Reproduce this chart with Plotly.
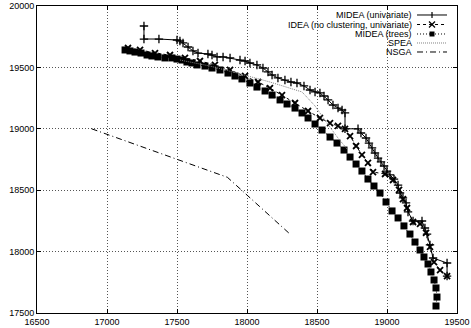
import plotly.graph_objects as go

# ---- data ----
uni_x = [17264, 17264, 17371, 17500, 17521, 17543, 17579, 17614, 17650, 17721, 17750,
         17786, 17829, 17879, 17950, 17986, 18021, 18071, 18114, 18150, 18179, 18221,
         18271, 18314, 18357, 18407, 18450, 18486, 18521, 18550, 18579, 18614, 18650,
         18679, 18700, 18700, 18793, 18814, 18850, 18871, 18893, 18914, 18936, 18957,
         18979, 19000, 19021, 19050, 19079, 19093, 19114, 19136, 19150, 19186, 19250,
         19271, 19286, 19307, 19329, 19429, 19429]
uni_y = [19837, 19731, 19731, 19723, 19715, 19699, 19666, 19634, 19617, 19609, 19601,
         19585, 19585, 19577, 19560, 19552, 19536, 19520, 19495, 19463, 19438, 19414,
         19397, 19381, 19373, 19349, 19316, 19300, 19292, 19267, 19235, 19194, 19169,
         19153, 19129, 19000, 19000, 18966, 18925, 18884, 18844, 18803, 18762, 18730,
         18697, 18656, 18624, 18591, 18542, 18477, 18437, 18396, 18323, 18249, 18249,
         18192, 18143, 18054, 17948, 17907, 17801]

idea_x = [17150, 17236, 17343, 17450, 17557, 17664, 17771, 17879, 17986, 18079, 18164,
          18250, 18343, 18436, 18521, 18593, 18650, 18700, 18736, 18779, 18821, 18864,
          18900, 18986, 19043, 19086, 19114, 19143, 19186, 19236, 19279, 19307, 19336,
          19379, 19429]
idea_y = [19658, 19642, 19617, 19601, 19577, 19552, 19520, 19479, 19430, 19381, 19332,
          19275, 19210, 19145, 19088, 19047, 19023, 19000, 18941, 18860, 18787, 18722,
          18648, 18632, 18583, 18502, 18428, 18355, 18241, 18225, 18152, 18038, 17915,
          17850, 17801]

trees_x = [17129, 17164, 17200, 17243, 17286, 17321, 17364, 17414, 17464, 17500, 17536,
           17571, 17607, 17643, 17700, 17750, 17807, 17864, 17914, 17964, 18021, 18071,
           18129, 18179, 18236, 18286, 18343, 18393, 18436, 18486, 18536, 18593, 18643,
           18693, 18736, 18779, 18821, 18864, 18907, 18950, 18993, 19036, 19079, 19121,
           19164, 19200, 19236, 19264, 19293, 19314, 19336, 19350, 19357, 19350]
trees_y = [19642, 19634, 19625, 19617, 19601, 19593, 19585, 19577, 19577, 19568, 19560,
           19544, 19536, 19520, 19511, 19495, 19479, 19454, 19430, 19406, 19373, 19340,
           19308, 19275, 19235, 19202, 19169, 19129, 19088, 19039, 18990, 18933, 18884,
           18827, 18770, 18713, 18656, 18591, 18534, 18477, 18404, 18331, 18274, 18209,
           18143, 18078, 18013, 17956, 17899, 17834, 17769, 17704, 17630, 17557]

spea_x = [17521, 17736, 17929, 18164, 18393, 18486, 18571, 18650, 18721]
spea_y = [19560, 19511, 19454, 19381, 19300, 19186, 19047, 18925, 18827]

nsga_x = [16890, 17860, 18300]
nsga_y = [19000, 18605, 18150]

x_ticks = [16500, 17000, 17500, 18000, 18500, 19000, 19500]
y_ticks = [17500, 18000, 18500, 19000, 19500, 20000]

names = ["MIDEA (univariate)", "IDEA (no clustering, univariate)", "MIDEA (trees)", "SPEA", "NSGA"]

FONT = "Liberation Sans, Arial, Helvetica, sans-serif"

fig = go.Figure()
fig.add_trace(go.Scatter(x=uni_x, y=uni_y, mode="lines+markers", name=names[0],
                         line=dict(color="black", width=1),
                         marker=dict(symbol="cross-thin", size=6, line=dict(color="black", width=1.3))))
fig.add_trace(go.Scatter(x=idea_x, y=idea_y, mode="lines+markers", name=names[1],
                         line=dict(color="black", width=1, dash="3px,3px"),
                         marker=dict(symbol="x-thin", size=6, line=dict(color="black", width=1.8))))
fig.add_trace(go.Scatter(x=trees_x, y=trees_y, mode="lines+markers", name=names[2],
                         line=dict(color="black", width=1, dash="1px,2px"),
                         marker=dict(symbol="square", size=7, color="black")))
fig.add_trace(go.Scatter(x=spea_x, y=spea_y, mode="lines", name=names[3],
                         line=dict(color="#808080", width=1, dash="1px,1px")))
fig.add_trace(go.Scatter(x=nsga_x, y=nsga_y, mode="lines", name=names[4],
                         line=dict(color="black", width=1, dash="6px,3px,1px,3px")))

axis_common = dict(showline=True, linecolor="black", linewidth=1, mirror="allticks",
                   ticks="inside", ticklen=4, tickcolor="black", automargin=False,
                   showgrid=True, gridcolor="#555", gridwidth=1, griddash="1px,2px",
                   zeroline=False, tickfont=dict(family=FONT, size=9, color="black"))

fig.update_xaxes(range=[16500, 19500], tickvals=x_ticks, ticktext=[str(v) for v in x_ticks],
                 ticklabelstandoff=0, **axis_common)
fig.update_yaxes(range=[17500, 20000], tickvals=y_ticks, ticktext=[str(v) for v in y_ticks],
                 **axis_common)

# ---- manual gnuplot-style key (text right-aligned, sample on the right) ----
row_y = [0.9707, 0.9397, 0.9088, 0.8795, 0.8502]
tx = 0.8952
s0, s1, sc = 0.9048, 0.9762, 0.9405
dashes = ["solid", "3px,3px", "1px,2px", "1px,1px", "6px,3px,1px,3px"]
colors = ["black", "black", "black", "#808080", "black"]
annotations = []
shapes = []
dx, dy = 3 / 420, 3 / 307
for i, nm in enumerate(names):
    yy = row_y[i]
    annotations.append(dict(xref="paper", yref="paper", x=tx, y=yy, text=nm, showarrow=False,
                            xanchor="right", yanchor="middle", borderpad=0,
                            font=dict(family=FONT, size=9, color="black")))
    shapes.append(dict(type="line", xref="paper", yref="paper", x0=s0, x1=s1, y0=yy, y1=yy,
                       line=dict(color=colors[i], width=1, dash=dashes[i])))
# sample markers
shapes.append(dict(type="line", xref="paper", yref="paper", x0=sc, x1=sc,
                   y0=row_y[0] - dy, y1=row_y[0] + dy, line=dict(color="black", width=1.2)))
shapes.append(dict(type="line", xref="paper", yref="paper", x0=sc - dx, x1=sc + dx,
                   y0=row_y[1] - dy, y1=row_y[1] + dy, line=dict(color="black", width=1.2)))
shapes.append(dict(type="line", xref="paper", yref="paper", x0=sc - dx, x1=sc + dx,
                   y0=row_y[1] + dy, y1=row_y[1] - dy, line=dict(color="black", width=1.2)))
shapes.append(dict(type="rect", xref="paper", yref="paper", x0=sc - 2.5 / 420, x1=sc + 2.5 / 420,
                   y0=row_y[2] - 2.5 / 307, y1=row_y[2] + 2.5 / 307,
                   fillcolor="black", line=dict(color="black", width=0)))

fig.update_layout(width=471, height=328, margin=dict(l=37, r=14, t=6, b=15),
                  paper_bgcolor="white", plot_bgcolor="white", showlegend=False,
                  annotations=annotations, shapes=shapes,
                  font=dict(family=FONT, size=9, color="black"))

fig.write_html("out.html", config={"displayModeBar": False},
               post_script="document.body.style.margin='0';document.body.style.padding='0';")
